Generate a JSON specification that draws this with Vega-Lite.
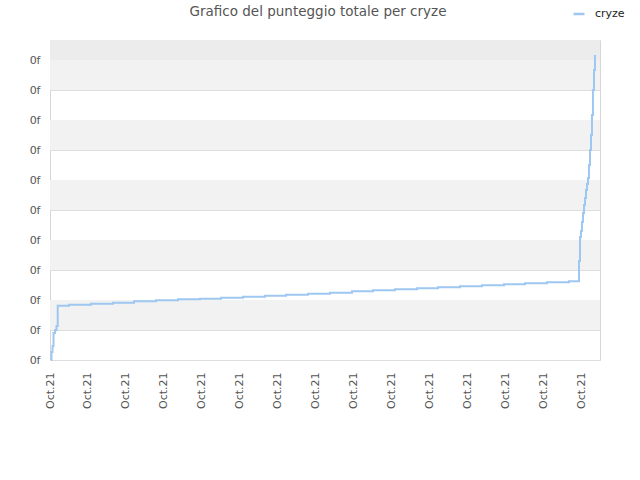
{
  "$schema": "https://vega.github.io/schema/vega-lite/v6.json",
  "width": 550,
  "height": 320,
  "autosize": {"type": "none"},
  "padding": {"left": 50, "top": 40, "right": 40, "bottom": 120},
  "background": "white",
  "config": {
    "font": "DejaVu Sans",
    "view": {"stroke": "#d6d6d6", "strokeWidth": 1},
    "axisY": {
      "title": null,
      "values": [0, 1, 2, 3, 4, 5, 6, 7, 8, 9, 10],
      "labelExpr": "'0f'",
      "ticks": false,
      "domain": false,
      "grid": true,
      "gridColor": "#dedede",
      "labelPadding": 10,
      "labelFontSize": 11,
      "labelColor": "#555555",
      "labelOverlap": false,
      "zindex": 1
    }
  },
  "title": {
    "text": "Grafico del punteggio totale per cryze",
    "fontSize": 13.5,
    "fontWeight": "normal",
    "color": "#555555",
    "anchor": "middle",
    "offset": -11,
    "dx": -7
  },
  "datasets": {
    "bands": [
      {"lo": 1, "hi": 2, "shade": "light"},
      {"lo": 3, "hi": 4, "shade": "light"},
      {"lo": 5, "hi": 6, "shade": "light"},
      {"lo": 7, "hi": 8, "shade": "light"},
      {"lo": 9, "hi": 10, "shade": "light"},
      {"lo": 10, "hi": 10.667, "shade": "dark"}
    ],
    "score": [
      {"t": 0.026, "score": 0},
      {"t": 0.039, "score": 0.267},
      {"t": 0.066, "score": 0.467},
      {"t": 0.092, "score": 0.9},
      {"t": 0.132, "score": 1.0},
      {"t": 0.171, "score": 1.133},
      {"t": 0.203, "score": 1.81},
      {"t": 0.5, "score": 1.843},
      {"t": 1.079, "score": 1.877},
      {"t": 1.658, "score": 1.91},
      {"t": 2.211, "score": 1.957},
      {"t": 2.789, "score": 1.99},
      {"t": 3.368, "score": 2.023},
      {"t": 3.947, "score": 2.043},
      {"t": 4.5, "score": 2.077},
      {"t": 5.079, "score": 2.11},
      {"t": 5.658, "score": 2.143},
      {"t": 6.211, "score": 2.177},
      {"t": 6.789, "score": 2.21},
      {"t": 7.368, "score": 2.243},
      {"t": 7.947, "score": 2.29},
      {"t": 8.5, "score": 2.323},
      {"t": 9.079, "score": 2.357},
      {"t": 9.658, "score": 2.39},
      {"t": 10.211, "score": 2.423},
      {"t": 10.789, "score": 2.457},
      {"t": 11.368, "score": 2.49},
      {"t": 11.947, "score": 2.523},
      {"t": 12.5, "score": 2.557},
      {"t": 13.079, "score": 2.59},
      {"t": 13.658, "score": 2.623},
      {"t": 13.921, "score": 3.3},
      {"t": 13.947, "score": 4.1},
      {"t": 13.974, "score": 4.3},
      {"t": 14.0, "score": 4.6},
      {"t": 14.026, "score": 4.9},
      {"t": 14.053, "score": 5.167},
      {"t": 14.079, "score": 5.4},
      {"t": 14.105, "score": 5.667},
      {"t": 14.132, "score": 5.867},
      {"t": 14.158, "score": 6.067},
      {"t": 14.184, "score": 6.5},
      {"t": 14.211, "score": 7.0},
      {"t": 14.237, "score": 7.5},
      {"t": 14.263, "score": 8.167},
      {"t": 14.289, "score": 9.0},
      {"t": 14.316, "score": 9.667},
      {"t": 14.342, "score": 10.167}
    ]
  },
  "layer": [
    {
      "data": {"name": "bands"},
      "mark": {"type": "rect"},
      "encoding": {
        "y": {
          "field": "lo",
          "type": "quantitative",
          "scale": {"domain": [0, 10.667], "nice": false, "zero": false}
        },
        "y2": {"field": "hi"},
        "color": {
          "field": "shade",
          "type": "nominal",
          "scale": {"domain": ["light", "dark"], "range": ["#f2f2f2", "#ececec"]},
          "legend": null
        }
      }
    },
    {
      "data": {"name": "score"},
      "mark": {"type": "line", "interpolate": "step-after", "strokeWidth": 2, "opacity": 0.95},
      "encoding": {
        "x": {
          "field": "t",
          "type": "quantitative",
          "scale": {"domain": [0, 14.474], "nice": false, "zero": false},
          "axis": {
            "title": null,
            "values": [0, 1, 2, 3, 4, 5, 6, 7, 8, 9, 10, 11, 12, 13, 14],
            "labelExpr": "'Oct.21'",
            "labelAngle": -90,
            "ticks": false,
            "domain": false,
            "grid": false,
            "labelPadding": 12,
            "labelFontSize": 11,
            "labelColor": "#555555",
            "labelOverlap": false
          }
        },
        "y": {"field": "score", "type": "quantitative"},
        "stroke": {
          "datum": "cryze",
          "type": "nominal",
          "scale": {"range": ["#99c5f0"]},
          "legend": {
            "title": null,
            "orient": "none",
            "legendX": 522,
            "legendY": -33,
            "symbolType": "stroke",
            "symbolSize": 120,
            "symbolStrokeWidth": 2.5,
            "labelFontSize": 11,
            "labelColor": "#222222",
            "labelOffset": 9
          }
        }
      }
    }
  ]
}
